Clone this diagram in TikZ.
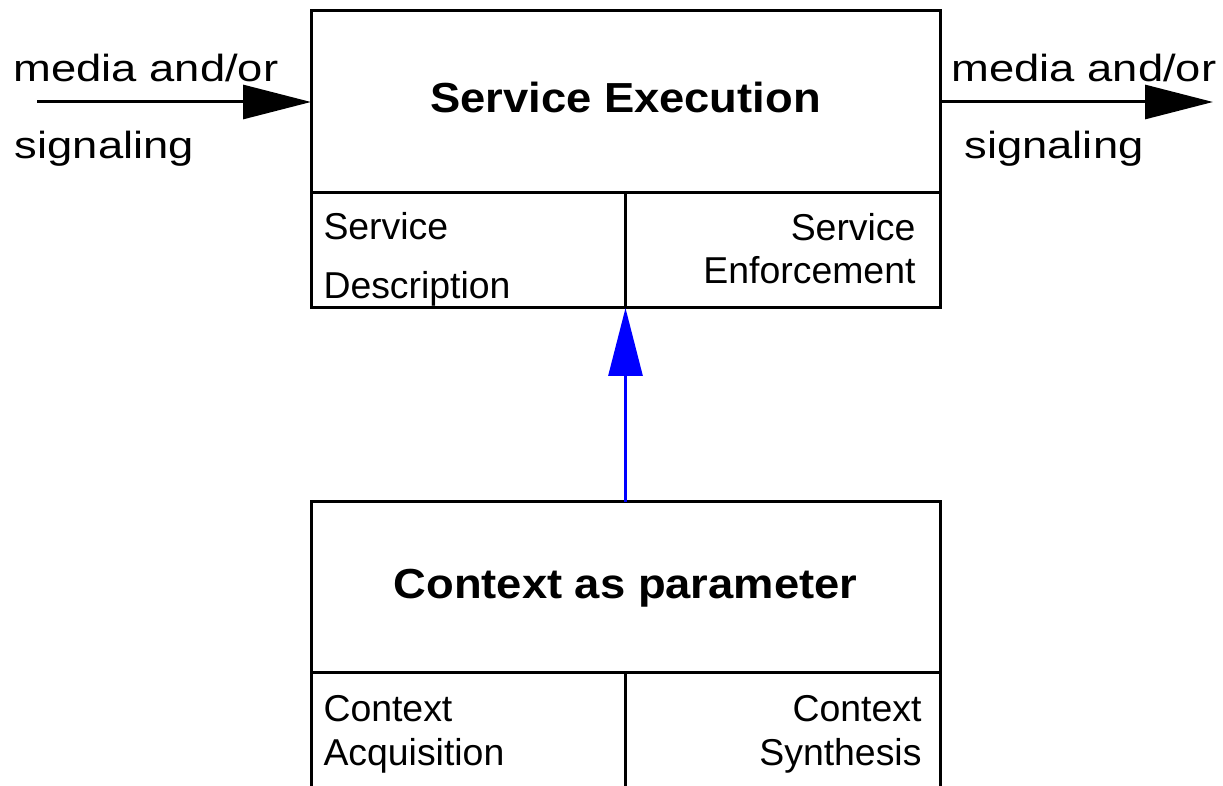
\documentclass[tikz,border=0pt]{standalone}
\usepackage{fontspec}
\setmainfont{Liberation Sans}
\newfontfamily\wideface[FakeStretch=1.2]{Liberation Sans}
\newfontfamily\titleface[FakeStretch=1.08]{Liberation Sans}
\usetikzlibrary{arrows,arrows.meta,positioning}

\begin{document}
\begin{tikzpicture}[x=0.5pt,y=-0.5pt,line width=1.5pt,>={Triangle[length=34pt,width=17pt]}]
  \tikzstyle{box}=[draw,rectangle,inner sep=0pt,outer sep=0pt,minimum width=314.5pt,text height=15.4pt,text depth=4.5pt,
                   font=\titleface\fontsize{21}{25}\selectfont\bfseries]
  \tikzstyle{cell}=[draw,rectangle,inner sep=0pt,outer sep=0pt,minimum width=157.25pt]
  \tikzstyle{big}=[font=\wideface\fontsize{18.9}{23}\selectfont,inner sep=0pt]
  \tikzstyle{small}=[font=\fontsize{18.7}{22}\selectfont,inner sep=0pt]

  \clip (0,0) rectangle (1223,786);

  % service block
  \node[box,minimum height=91pt] (exec) at (625.5,102) {Service Execution};
  \node[cell,minimum height=57.5pt,anchor=north west] (desc) at (exec.south west) {};
  \node[cell,minimum height=57.5pt,anchor=north east] (enf)  at (exec.south east) {};
  \node[small,anchor=north west,align=left]  (descT) at (322,210.7) {Service\\[7.5pt]Description};
  \node[small,anchor=north east,align=right,font=\fontsize{18.7}{21.5}\selectfont]
                                             (enfT)  at (917,211.7) {Service\\Enforcement};

  % context block
  \node[box,minimum height=85.5pt] (ctx) at (625.5,587.5) {Context as parameter};
  \node[cell,minimum height=80pt,anchor=north west] (acq) at (ctx.south west) {};
  \node[cell,minimum height=80pt,anchor=north east] (syn) at (ctx.south east) {};
  \node[small,anchor=north west,align=left]  (acqT) at (322,693.7) {Context\\Acquisition};
  \node[small,anchor=north east,align=right] (synT) at (923,693.7) {Context\\Synthesis};

  % media in and out
  \node[big,anchor=base west] (inA)  at (12,82)    {media and/or};
  \node[big,anchor=base west] (inB)  at (13.5,159) {signaling};
  \node[big,anchor=base west] (outA) at (950,82)   {media and/or};
  \node[big,anchor=base west] (outB) at (963,159)  {signaling};
  \coordinate (in)  at (37,102);
  \coordinate (out) at (1213,102);

  \draw[->] (in) -- (exec.west);
  \draw[->] (exec.east) -- (out);
  \draw[->,blue] (ctx.north) -- (desc.south east);
\end{tikzpicture}
\end{document}
